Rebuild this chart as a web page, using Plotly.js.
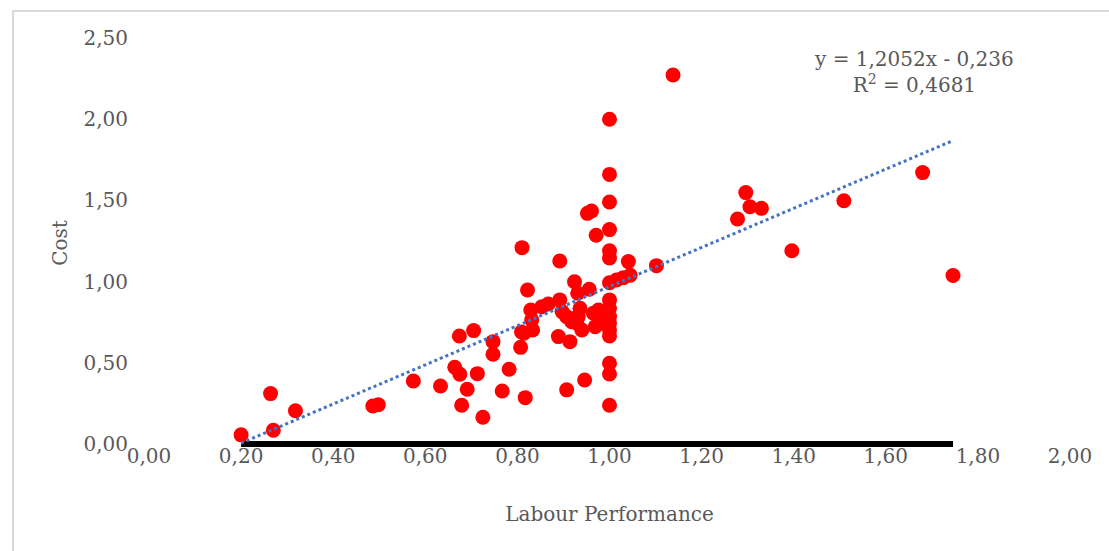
<!DOCTYPE html>
<html>
<head>
<meta charset="utf-8">
<script src="https://cdn.plot.ly/plotly-3.0.1.min.js"></script>
<style>
  html, body { margin: 0; padding: 0; background: #fff; }
  #wrap { position: relative; width: 1109px; height: 551px; overflow: hidden; }
  #chart { width: 1109px; height: 551px; }
  #frame { position: absolute; left: 12px; top: 10px; width: 1200px; height: 700px;
           border-left: 2px solid #d9d9d9; border-top: 2px solid #d9d9d9; pointer-events: none; }
</style>
</head>
<body>
<div id="wrap">
  <div id="chart"></div>
  <div id="frame"></div>
</div>
<script>
// Labour Performance (x) and Cost (y)
const labourPerformance = [
  0.200, 0.264, 0.270, 0.318, 0.486, 0.498, 0.574, 0.633, 0.664, 0.675,
  0.674, 0.705, 0.713, 0.691, 0.679, 0.725, 0.747, 0.747, 0.767, 0.782,
  0.807, 0.809, 0.817, 0.814, 0.833, 0.831, 0.829, 0.853, 0.867, 0.810,
  0.822, 0.892, 0.892, 0.897, 0.907, 0.918, 0.932, 0.936, 0.889, 0.914,
  0.929, 0.940, 0.924, 0.931, 0.956, 0.952, 0.961, 0.971, 0.965, 0.976,
  0.969, 0.983, 0.907, 0.946,
  1.000, 1.000, 1.000, 1.000, 1.000, 1.000, 1.000, 1.000, 1.000, 1.000,
  1.000, 1.000, 1.000, 1.000, 1.000, 1.000,
  1.015, 1.030, 1.045, 1.041, 1.102, 1.138, 1.278, 1.296, 1.305, 1.330,
  1.396, 1.509, 1.680, 1.746
];
const cost = [
  0.056, 0.310, 0.084, 0.204, 0.234, 0.241, 0.388, 0.357, 0.472, 0.429,
  0.665, 0.698, 0.433, 0.337, 0.238, 0.164, 0.630, 0.552, 0.326, 0.460,
  0.595, 0.690, 0.285, 0.682, 0.702, 0.764, 0.825, 0.845, 0.862, 1.209,
  0.948, 0.887, 1.127, 0.815, 0.784, 0.753, 0.784, 0.836, 0.661, 0.630,
  0.743, 0.702, 0.999, 0.928, 0.953, 1.420, 1.435, 1.285, 0.805, 0.825,
  0.722, 0.753, 0.333, 0.394,
  2.000, 1.660, 1.490, 1.320, 1.190, 1.145, 0.993, 0.887, 0.835, 0.784,
  0.745, 0.702, 0.665, 0.497, 0.431, 0.238,
  1.010, 1.024, 1.039, 1.123, 1.098, 2.272, 1.385, 1.548, 1.461, 1.451,
  1.190, 1.498, 1.671, 1.037
];
// Linear trendline as stated in the chart
const slope = 1.2052;
const intercept = -0.236;
const trendLabel = "y = 1,2052x - 0,236<br>R<sup>2</sup> = 0,4681";
const xTicks = [0, 0.2, 0.4, 0.6, 0.8, 1.0, 1.2, 1.4, 1.6, 1.8, 2.0];
const yTicks = [0, 0.5, 1.0, 1.5, 2.0, 2.5];

const xMin = Math.min(...labourPerformance);
const xMax = Math.max(...labourPerformance);

const font = { family: "DejaVu Serif, serif", size: 20, color: "#595959" };

const traces = [
  {
    x: [xMin, xMax], y: [0, 0], mode: "lines", type: "scatter",
    line: { color: "#000000", width: 6 }, hoverinfo: "skip", showlegend: false
  },
  {
    x: labourPerformance, y: cost, mode: "markers", type: "scatter",
    marker: { color: "#FF0000", size: 15, line: { width: 0 } }, showlegend: false
  },
  {
    x: [xMin, xMax], y: [slope * xMin + intercept, slope * xMax + intercept],
    mode: "lines", type: "scatter",
    line: { color: "#4472C4", width: 3, dash: "dot" }, hoverinfo: "skip", showlegend: false
  }
];

const layout = {
  width: 1109, height: 551,
  margin: { l: 149, r: 39, t: 38, b: 103 },
  paper_bgcolor: "rgba(0,0,0,0)", plot_bgcolor: "rgba(0,0,0,0)",
  separators: ",.",
  font: font,
  showlegend: false,
  xaxis: {
    range: [0, 2], tickvals: xTicks, tickformat: ".2f",
    showgrid: false, zeroline: false, showline: false, ticks: "",
    anchor: "free", position: 0.015,
    tickfont: font, ticklabelstandoff: 0,
    title: { text: "Labour Performance", font: font, standoff: 40 }
  },
  yaxis: {
    range: [-0.025, 2.5], tickvals: yTicks, tickformat: ".2f",
    showgrid: false, zeroline: false, showline: false, ticks: "",
    tickfont: font, ticklabelstandoff: 20,
    title: { text: "Cost", font: font, standoff: 10 }
  },
  annotations: [{
    xref: "x", yref: "y", x: 1.661, y: 2.29, text: trendLabel, showarrow: false,
    align: "center", font: font
  }]
};

Plotly.newPlot("chart", traces, layout, { displayModeBar: false, staticPlot: true });
</script>
</body>
</html>
